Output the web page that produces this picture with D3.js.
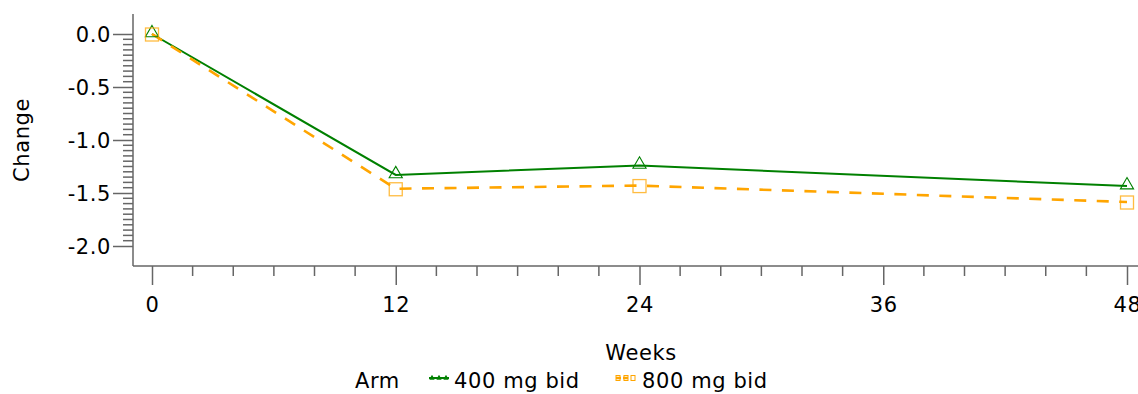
<!DOCTYPE html>
<html>
<head>
<meta charset="utf-8">
<script src="https://cdn.jsdelivr.net/npm/d3@7"></script>
<style>
  body { margin: 0; background: #fff; }
  svg { display: block; }
  text { font-family: "DejaVu Sans", Verdana, sans-serif; font-size: 21px; letter-spacing: 0.6px; fill: #000; }
</style>
</head>
<body>
<div id="chart"></div>
<script>
// data
const weeks = [0, 12, 24, 48];
const arm400 = [0.0, -1.33, -1.24, -1.435];
const arm800 = [0.0, -1.46, -1.43, -1.585];
const xTicks = [0, 12, 24, 36, 48];
const yTicks = [0, -0.5, -1.0, -1.5, -2.0];
const armNames = ["400 mg bid", "800 mg bid"];

const width = 1138, height = 394;
const green = "#008000", orange = "#ffa500";

const svg = d3.select("#chart")
    .append("svg")
    .attr("width", width)
    .attr("height", height);

const plot = { left: 133, top: 14, bottom: 266 };

const x = d3.scaleLinear().domain([0, 48]).range([152, 1127]);
const y = d3.scaleLinear().domain([0, -2]).range([34, 246]);

// axis lines
svg.append("line")
    .attr("x1", plot.left).attr("x2", width)
    .attr("y1", plot.bottom).attr("y2", plot.bottom)
    .attr("stroke", "#666").attr("stroke-width", 1.5);
svg.append("line")
    .attr("x1", plot.left).attr("x2", plot.left)
    .attr("y1", plot.top).attr("y2", plot.bottom)
    .attr("stroke", "#666").attr("stroke-width", 1.5);

// y axis (plain hyphen for the minus sign, as in the original)
const fmt = d3.format(".1f");
const yAxis = svg.append("g")
    .attr("transform", `translate(${plot.left},0)`)
    .call(d3.axisLeft(y).tickValues(yTicks).tickSize(20).tickPadding(2)
        .tickFormat(d => fmt(d).replace("\u2212", "-")));
yAxis.select(".domain").remove();
yAxis.selectAll(".tick line").attr("stroke", "#666").attr("stroke-width", 1.5);
yAxis.selectAll(".tick text").attr("dy", "0.36em");

const yMinor = d3.range(1, 40).map(i => -i * 0.05).filter(v => Math.abs(v * 2 - Math.round(v * 2)) > 1e-6);
svg.append("g").selectAll("line")
    .data(yMinor)
    .enter()
    .append("line")
    .attr("x1", plot.left - 10).attr("x2", plot.left)
    .attr("y1", d => y(d)).attr("y2", d => y(d))
    .attr("stroke", "#666").attr("stroke-width", 1.5);

// x axis
const xAxis = svg.append("g")
    .attr("transform", `translate(0,${plot.bottom})`)
    .call(d3.axisBottom(x).tickValues(xTicks).tickSize(19).tickPadding(12));
xAxis.select(".domain").remove();
xAxis.selectAll(".tick line").attr("stroke", "#666").attr("stroke-width", 1.5);

const xMinor = d3.range(2, 48, 2).filter(v => v % 12 !== 0);
svg.append("g").selectAll("line")
    .data(xMinor)
    .enter()
    .append("line")
    .attr("x1", d => x(d)).attr("x2", d => x(d))
    .attr("y1", plot.bottom).attr("y2", plot.bottom + 10)
    .attr("stroke", "#666").attr("stroke-width", 1.5);

// axis titles
svg.append("text")
    .attr("transform", "translate(29,140) rotate(-90)")
    .style("text-anchor", "middle")
    .text("Change");
svg.append("text")
    .attr("x", 641).attr("y", 360)
    .style("text-anchor", "middle")
    .text("Weeks");

// lines
const line = d3.line()
    .x((d, i) => x(weeks[i]))
    .y(d => y(d));

svg.append("path")
    .attr("d", line(arm400))
    .attr("fill", "none")
    .attr("stroke", green)
    .attr("stroke-width", 2);

svg.append("path")
    .attr("d", line(arm800))
    .attr("fill", "none")
    .attr("stroke", orange)
    .attr("stroke-width", 2.6)
    .attr("stroke-dasharray", "12,10.5");

// markers
const tri = d3.symbol().type(d3.symbolTriangle).size(75);
svg.append("g").selectAll("path")
    .data(arm400)
    .enter()
    .append("path")
    .attr("d", tri)
    .attr("transform", (d, i) => `translate(${x(weeks[i])},${y(d) - 1})`)
    .attr("fill", "none")
    .attr("stroke", green)
    .attr("stroke-width", 1.1);

svg.append("g").selectAll("rect")
    .data(arm800)
    .enter()
    .append("rect")
    .attr("x", (d, i) => x(weeks[i]) - 6.5)
    .attr("y", d => y(d) - 6)
    .attr("width", 13).attr("height", 13)
    .attr("fill", "none")
    .attr("stroke", orange)
    .attr("stroke-opacity", 0.75)
    .attr("stroke-width", 1.3);

// legend
const legend = svg.append("g");
legend.append("text").attr("x", 355).attr("y", 388).text("Arm");

const g1 = legend.append("g").attr("transform", "translate(429,378)");
g1.append("line").attr("x1", 0).attr("x2", 20).attr("y1", 0).attr("y2", 0)
    .attr("stroke", green).attr("stroke-width", 2);
g1.selectAll("path").data([3, 10, 17]).enter().append("path")
    .attr("d", d3.symbol().type(d3.symbolTriangle).size(8))
    .attr("transform", d => `translate(${d},0)`)
    .attr("fill", "none").attr("stroke", green).attr("stroke-width", 1);
legend.append("text").attr("x", 454).attr("y", 388).text(armNames[0]);

const g2 = legend.append("g").attr("transform", "translate(616,378)");
g2.append("line").attr("x1", 0).attr("x2", 14).attr("y1", 0).attr("y2", 0)
    .attr("stroke", orange).attr("stroke-width", 2.6).attr("stroke-dasharray", "5,2");
g2.selectAll("rect").data([2, 10, 17]).enter().append("rect")
    .attr("x", d => d - 2).attr("y", -2.5).attr("width", 4).attr("height", 5)
    .attr("fill", "none").attr("stroke", orange).attr("stroke-width", 1);
legend.append("text").attr("x", 642).attr("y", 388).text(armNames[1]);
</script>
</body>
</html>
